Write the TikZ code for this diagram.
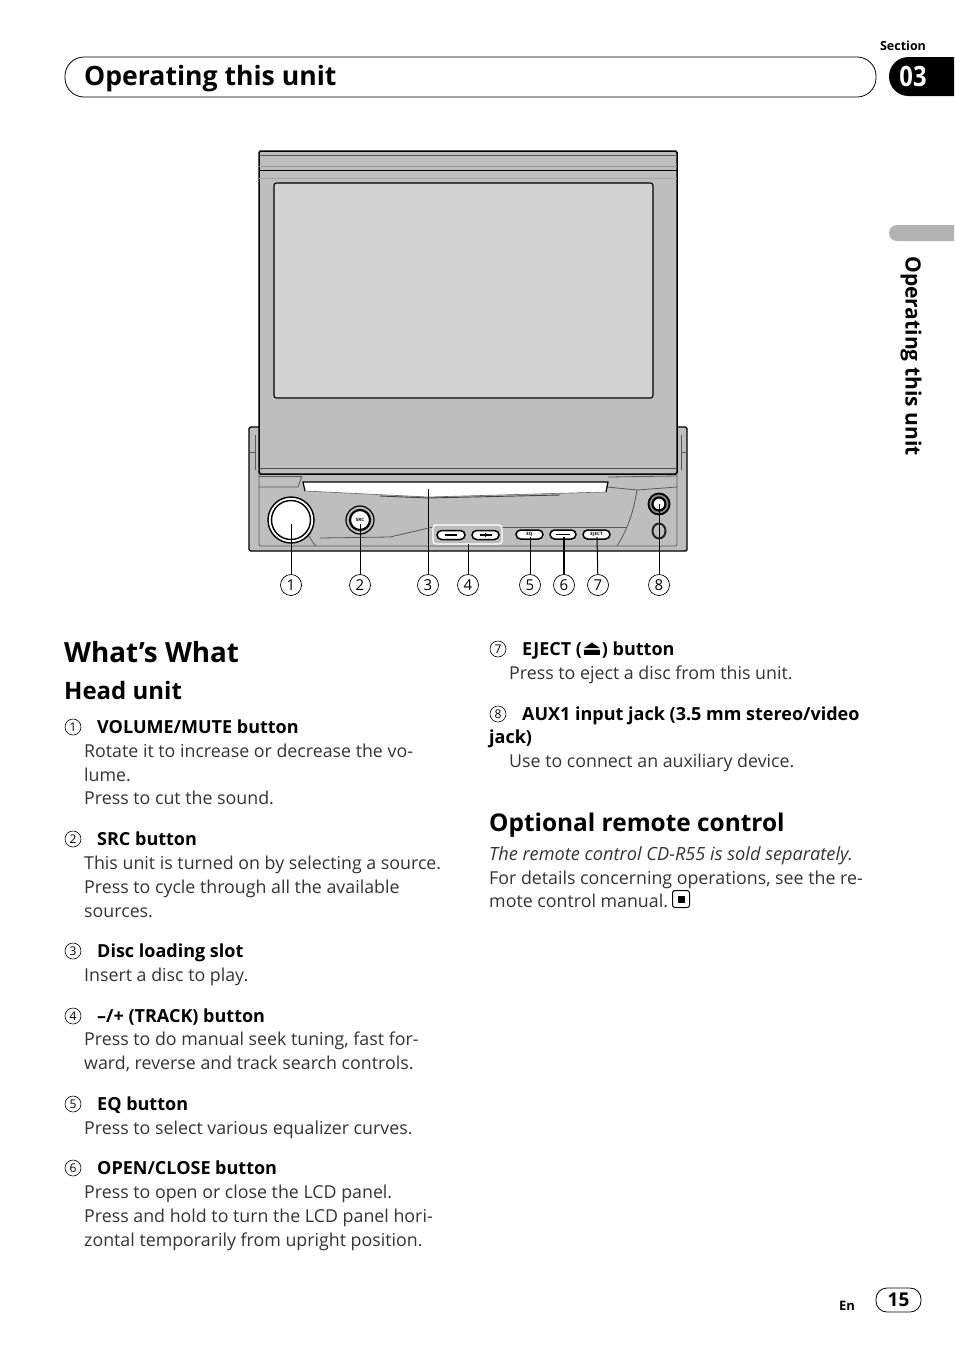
\documentclass[tikz,border=0pt]{standalone}
\usepackage{fontspec}
\setmainfont{Open Sans}
\newfontfamily\symfont{DejaVu Sans}
\usepackage{tikz}
\usetikzlibrary{shapes.geometric}
\definecolor{panelgray}{HTML}{BEBEBE}
\definecolor{screengray}{HTML}{D3D3D3}
\definecolor{bodygray}{HTML}{333333}
\newcommand{\fs}[1]{\fontsize{#1}{#1}\selectfont}
\tikzstyle{body}=[anchor=base west,inner sep=0pt,text=bodygray,font=\fs{17.8}]
\tikzstyle{item}=[anchor=base west,inner sep=0pt,font=\bfseries\fs{18}]
\tikzstyle{sub}=[anchor=base west,inner sep=0pt,font=\bfseries\fs{24}]
\tikzstyle{head}=[anchor=base west,inner sep=0pt,font=\bfseries\fs{26.6}]
\tikzstyle{num}=[shape=circle,draw,line width=0.6pt,inner sep=0pt,minimum size=16pt,font=\fs{12}]
\tikzstyle{bignum}=[shape=circle,draw,line width=0.7pt,inner sep=0pt,minimum size=21pt,font=\fs{15}]
\tikzstyle{lead}=[line width=1pt]
\tikzstyle{btn}=[shape=rectangle,rounded corners=4.5pt,draw,line width=1.5pt,fill=white,inner sep=0pt,minimum height=9pt,font=\bfseries\fs{4.5}]
\tikzstyle{line}=[line width=0.8pt,black!65]
\begin{document}
\begin{tikzpicture}[x=1pt,y=-1pt]
    \useasboundingbox (0,0) rectangle (954,1352);
    % header
    \draw[line width=0.8pt,rounded corners=19pt] (65,57) rectangle (876,97);
    \node[head] (title) at (84,85) {Operating this unit};
    \node[inner sep=0pt,font=\bfseries\fs{12.5}] (section) at (903,46) {Section};
    \fill[black] (954,57) -- (908.5,57) arc (-90:-270:19.5) -- (954,96) -- cycle;
    \node[inner sep=0pt,text=white,font=\bfseries\fs{28}\addfontfeatures{FakeStretch=0.85}] (secnum) at (913,76) {03};
    \fill[black!30] (954,225) -- (897,225) arc (-90:-270:8) -- (954,241) -- cycle;
    \node[rotate=-90,inner sep=0pt,font=\bfseries\fs{21}] (sidetitle) at (911,356) {Operating this unit};
    % base of the unit
    \draw[line width=1.4pt,fill=panelgray,rounded corners=1.5pt] (249,427) rectangle (687,551);
    \draw[line,fill=panelgray] (255,435) -- (255,470);
    \draw[line] (249,452) -- (255,452);
    \draw[line] (681,435) -- (681,470);
    \draw[line] (681,452) -- (687,452);
    \draw[line,rounded corners=2pt] (259,474) -- (259,546) -- (677,546) -- (677,474);
    \draw[line] (259,476) -- (302,476);
    \draw[line] (259,487) -- (298,487) -- (302,476);
    \draw[line] (608,477) -- (677,476);
    \draw[line] (607,487) -- (637,490) -- (677,487);
    % curves of the fascia
    \draw[line] (637,490) .. controls (633,515) and (626,532) .. (617,546);
    \draw[line] (306,530) .. controls (310,538) and (312,542) .. (316,546);
    \draw[line] (320,538) -- (390,537) -- (433,527);
    \draw[line] (502,527) -- (627,527);
    % disc slot
    \fill[white] (303,482) -- (608,482) -- (606,492) -- (428,497) -- (305,491) -- cycle;
    \draw[line width=1.2pt] (305,491) -- (303,482) -- (608,482) -- (606,492);
    \draw[line width=0.6pt,black!60] (305,491) -- (428,497) -- (606,492);
    \draw[line width=0.9pt,black!75] (380,496) -- (428,498) -- (560,495);
    % screen panel
    \draw[line width=1.5pt,fill=panelgray,rounded corners=1.5pt] (259,474) -- (259,151) -- (677,151) -- (677,474) -- cycle;
    \draw[line] (259,155.5) -- (677,155.5);
    \draw[line,black!40] (259,166) -- (677,166);
    \draw[line width=1pt,black] (259,170) -- (677,170);
    \draw[line,black!35] (259,178) -- (677,178);
    \draw[line,black!70] (259,468) -- (677,468);
    \draw[line width=1.1pt,fill=screengray,rounded corners=2.5pt] (274,183) rectangle (653,398);
    % knob and buttons
    \node[shape=circle,draw,line width=1.4pt,fill=white,minimum size=46pt,inner sep=0pt] (knobring) at (291,520) {};
    \node[shape=circle,draw,line width=1.4pt,fill=white,minimum size=39pt,inner sep=0pt] (knob) at (291,520) {};
    \node[shape=circle,draw,line width=1.2pt,fill=panelgray,minimum size=28pt,inner sep=0pt] (srcring) at (360,520) {};
    \node[shape=circle,draw,line width=2.2pt,fill=white,minimum size=20pt,inner sep=0pt,font=\bfseries\fs{4.5}] (src) at (360,520) {SRC};
    \node[shape=rectangle,rounded corners=3pt,draw=white,line width=1.2pt,fill=panelgray,minimum width=69pt,minimum height=19pt] (group) at (467.5,534.5) {};
    \node[btn,minimum width=28pt] (minus) at (451,535) {};
    \node[btn,minimum width=27pt] (plus) at (485.5,535) {};
    \draw[line width=1.3pt] (minus.center) +(-6,0) -- +(6,0);
    \draw[line width=1.3pt] (plus.center) +(-6,0) -- +(6,0);
    \draw[line width=1.3pt] (plus.center) +(0,-2) -- +(0,2);
    \node[btn,minimum width=27pt] (eq) at (529.5,534.5) {EQ};
    \node[btn,minimum width=26pt] (open) at (563,534.5) {\rule{14pt}{1.2pt}};
    \node[btn,minimum width=27pt] (eject) at (596.5,534.5) {EJECT};
    \node[shape=circle,draw,line width=1.8pt,fill=black!45,minimum size=21pt,inner sep=0pt] (jack) at (659,504) {};
    \node[shape=circle,draw,line width=2.2pt,fill=white,minimum size=13pt,inner sep=0pt] (jackin) at (659,504) {};
    \node[shape=ellipse,draw,black!85,line width=2pt,minimum width=13pt,minimum height=15pt,inner sep=0pt] (sensor) at (659,531) {};
    % numbers under the unit
    \coordinate (t1) at (291,524);
    \coordinate (t2) at (360,524);
    \coordinate (t3) at (428,489);
    \coordinate (t4) at (468,544);
    \coordinate (t5) at (530,537);
    \coordinate (t6) at (564,537);
    \coordinate (t7) at (597,537);
    \coordinate (t8) at (659,504);
    \node[bignum] (N1) at (291,585) {1} edge[lead] (t1);
    \node[bignum] (N2) at (360,585) {2} edge[lead] (t2);
    \node[bignum] (N3) at (428,585) {3} edge[lead] (t3);
    \node[bignum] (N4) at (468,585) {4} edge[lead] (t4);
    \node[bignum] (N5) at (530,585) {5} edge[lead] (t5);
    \node[bignum] (N6) at (564,585) {6} edge[lead,line width=1.5pt] (t6);
    \node[bignum] (N7) at (598,585) {7} edge[lead] (t7);
    \node[bignum] (N8) at (659,585) {8} edge[lead] (t8);
    % left column
    \node[sub,font=\bfseries\fs{27.8}] (whats) at (64,662) {What’s What};
    \node[sub] (headunit) at (64,699) {Head unit};
    \node[num] (a1) at (73,727) {1};
    \node[item] (i1) at (97,733) {VOLUME/MUTE button};
    \node[body] (b1) at (84,757) {Rotate it to increase or decrease the vo-};
    \node[body] (b2) at (84,781) {lume.};
    \node[body] (b3) at (84,804) {Press to cut the sound.};
    \node[num] (a2) at (73,839) {2};
    \node[item] (i2) at (97,845) {SRC button};
    \node[body] (b4) at (84,869) {This unit is turned on by selecting a source.};
    \node[body] (b5) at (84,893) {Press to cycle through all the available};
    \node[body] (b6) at (84,917) {sources.};
    \node[num] (a3) at (73,951) {3};
    \node[item] (i3) at (97,957) {Disc loading slot};
    \node[body] (b7) at (84,981) {Insert a disc to play.};
    \node[num] (a4) at (73,1016) {4};
    \node[item] (i4) at (97,1022) {–/+ (TRACK) button};
    \node[body] (b8) at (84,1045) {Press to do manual seek tuning, fast for-};
    \node[body] (b9) at (84,1069) {ward, reverse and track search controls.};
    \node[num] (a5) at (73,1104) {5};
    \node[item] (i5) at (97,1110) {EQ button};
    \node[body] (b10) at (84,1134) {Press to select various equalizer curves.};
    \node[num] (a6) at (73,1168) {6};
    \node[item] (i6) at (97,1174) {OPEN/CLOSE button};
    \node[body] (b11) at (84,1198) {Press to open or close the LCD panel.};
    \node[body] (b12) at (84,1222) {Press and hold to turn the LCD panel hori-};
    \node[body] (b13) at (84,1246) {zontal temporarily from upright position.};
    % right column
    \node[num] (a7) at (498,649) {7};
    \node[item] (i7) at (522,655) {EJECT ({\symfont\fs{21}⏏}) button};
    \node[body] (b14) at (509,679) {Press to eject a disc from this unit.};
    \node[num] (a8) at (498,714) {8};
    \node[item] (i8) at (522,720) {AUX1 input jack (3.5 mm stereo/video};
    \node[item] (i9) at (489,743) {jack)};
    \node[body] (b15) at (509,767) {Use to connect an auxiliary device.};
    \node[sub,font=\bfseries\fs{24.4}] (optional) at (489,831) {Optional remote control};
    \node[body,font=\itshape\fs{18.2}] (b16) at (489,860) {The remote control CD-R55 is sold separately.};
    \node[body] (b17) at (489,884) {For details concerning operations, see the re-};
    \node[body] (b18) at (489,907) {mote control manual.};
    \node[shape=rectangle,rounded corners=2.5pt,draw,line width=1pt,minimum size=17pt,inner sep=0pt] (endmark) at (681,899) {};
    \node[shape=rectangle,fill=black,minimum size=7pt,inner sep=0pt] (endsq) at (681,899) {};
    % page number
    \node[inner sep=0pt,font=\bfseries\fs{13}] (en) at (847,1306) {En};
    \node[shape=rectangle,rounded corners=11pt,draw,line width=0.8pt,minimum width=45pt,minimum height=24pt,inner sep=0pt,font=\bfseries\fs{19}] (page) at (898.5,1300) {15};
\end{tikzpicture}
\end{document}
